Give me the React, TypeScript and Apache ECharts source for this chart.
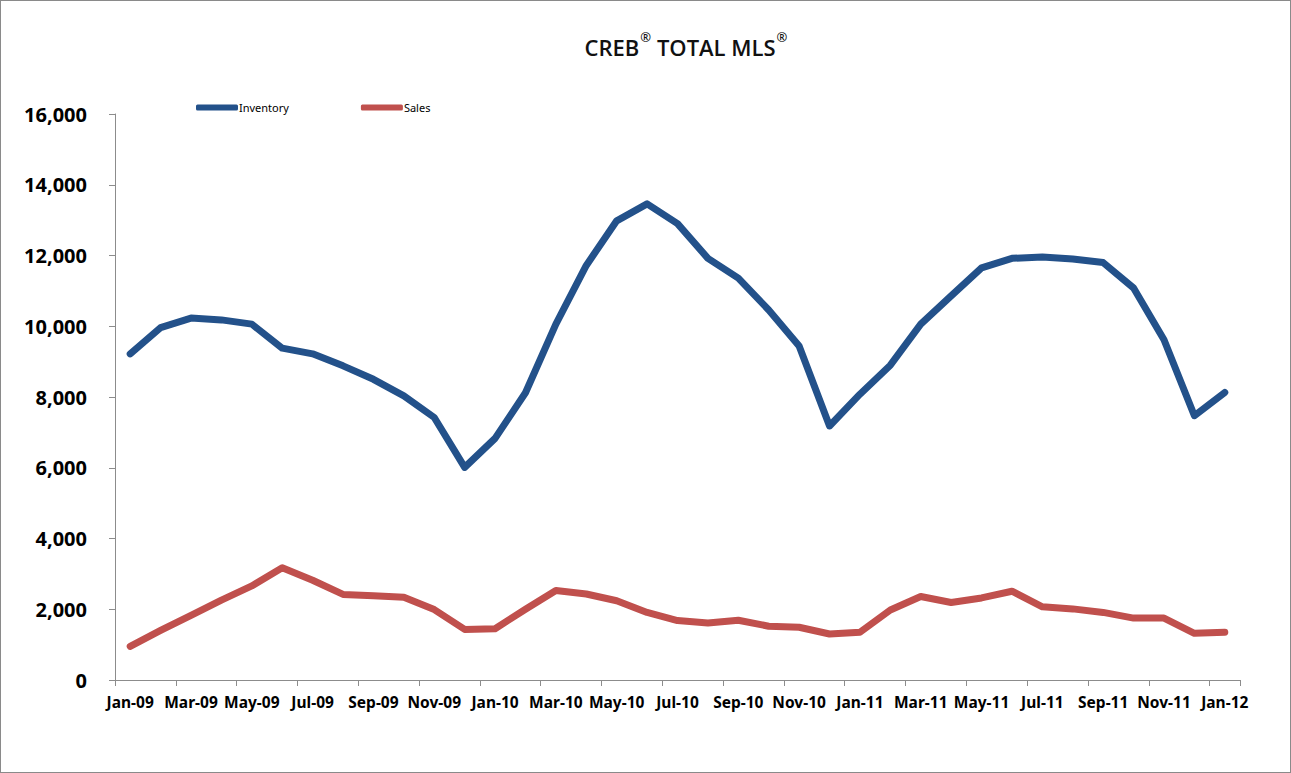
import React, { useEffect, useRef } from "react";
import * as echarts from "echarts";

const months: string[] = [
  "Jan-09", "Feb-09", "Mar-09", "Apr-09", "May-09", "Jun-09", "Jul-09", "Aug-09", "Sep-09", "Oct-09", "Nov-09", "Dec-09",
  "Jan-10", "Feb-10", "Mar-10", "Apr-10", "May-10", "Jun-10", "Jul-10", "Aug-10", "Sep-10", "Oct-10", "Nov-10", "Dec-10",
  "Jan-11", "Feb-11", "Mar-11", "Apr-11", "May-11", "Jun-11", "Jul-11", "Aug-11", "Sep-11", "Oct-11", "Nov-11", "Dec-11",
  "Jan-12",
];

const inventory: number[] = [
  9220, 9960, 10230, 10180, 10060, 9380, 9220, 8880, 8500, 8030, 7420, 6010,
  6830, 8120, 10060, 11720, 12980, 13460, 12900, 11920, 11360, 10460, 9440, 7180,
  8080, 8900, 10060, 10860, 11650, 11920, 11960, 11900, 11800, 11080, 9620, 7470,
  8130,
];

const sales: number[] = [
  950, 1400, 1830, 2260, 2660, 3170, 2820, 2420, 2380, 2340, 1990, 1430,
  1450, 2000, 2530, 2430, 2240, 1910, 1680, 1610, 1690, 1520, 1490, 1300,
  1350, 1980, 2360, 2190, 2320, 2510, 2070, 2010, 1910, 1750, 1750, 1320,
  1350,
];

const yMin = 0;
const yMax = 16000;
const yInterval = 2000;

export default function App() {
  const ref = useRef<HTMLDivElement>(null);

  useEffect(() => {
    document.body.style.margin = "0";
    if (!ref.current) return;
    const chart = echarts.init(ref.current, undefined, { renderer: "svg" });
    const font = "'Noto Sans', 'Liberation Sans', sans-serif";
    const titleFont = "'Open Sans', 'Noto Sans', sans-serif";
    chart.setOption({
      animation: false,
      backgroundColor: "#ffffff",
      textStyle: { fontFamily: font },
      title: {
        text: "{t|CREB}{r|®}{t| TOTAL MLS}{r|®}",
        left: 680,
        top: 24,
        textAlign: "center",
        textStyle: {
          rich: {
            t: { fontSize: 22, fontWeight: 600, color: "#111", fontFamily: titleFont, lineHeight: 28, verticalAlign: "bottom" },
            r: { fontSize: 13, fontWeight: 600, color: "#111", fontFamily: titleFont, lineHeight: 28, verticalAlign: "top", padding: [0, 0, 3, 1] },
          },
        },
      },
      legend: {
        left: 190,
        top: 96,
        itemWidth: 42,
        itemHeight: 6,
        itemGap: 72,
        icon: "roundRect",
        textStyle: { fontSize: 11, color: "#000", fontFamily: font, padding: [0, 0, 0, -4] },
        data: ["Inventory", "Sales"],
      },
      grid: { left: 114, right: 50, top: 113, bottom: 92, containLabel: false },
      xAxis: {
        type: "category",
        data: months,
        boundaryGap: true,
        axisLine: { lineStyle: { color: "#8c8c8c", width: 1 } },
        axisTick: { show: true, interval: 1, length: 6, lineStyle: { color: "#8c8c8c" } },
        axisLabel: {
          interval: 1,
          color: "#000",
          fontWeight: "bold",
          fontSize: 15.5,
          margin: 14,
          fontFamily: font,
        },
        splitLine: { show: false },
      },
      yAxis: {
        type: "value",
        min: yMin,
        max: yMax,
        interval: yInterval,
        axisLine: { show: true, lineStyle: { color: "#8c8c8c", width: 1 } },
        axisTick: { show: true, length: 6, lineStyle: { color: "#8c8c8c" } },
        axisLabel: {
          color: "#000",
          fontWeight: "bold",
          fontSize: 20,
          margin: 28,
          fontFamily: font,
          formatter: (v: number) => v.toLocaleString("en-US"),
        },
        splitLine: { show: false },
      },
      series: [
        {
          name: "Inventory",
          type: "line",
          data: inventory,
          symbol: "none",
          color: "#23518a",
          lineStyle: { width: 7, color: "#23518a", join: "round", cap: "round" },
        },
        {
          name: "Sales",
          type: "line",
          data: sales,
          symbol: "none",
          color: "#c0504d",
          lineStyle: { width: 7, color: "#c0504d", join: "round", cap: "round" },
        },
      ],
    });
    return () => chart.dispose();
  }, []);

  return (
    <div
      ref={ref}
      style={{ width: 1291, height: 773, boxSizing: "border-box", border: "1px solid #8a8a8a", background: "#fff" }}
    />
  );
}
